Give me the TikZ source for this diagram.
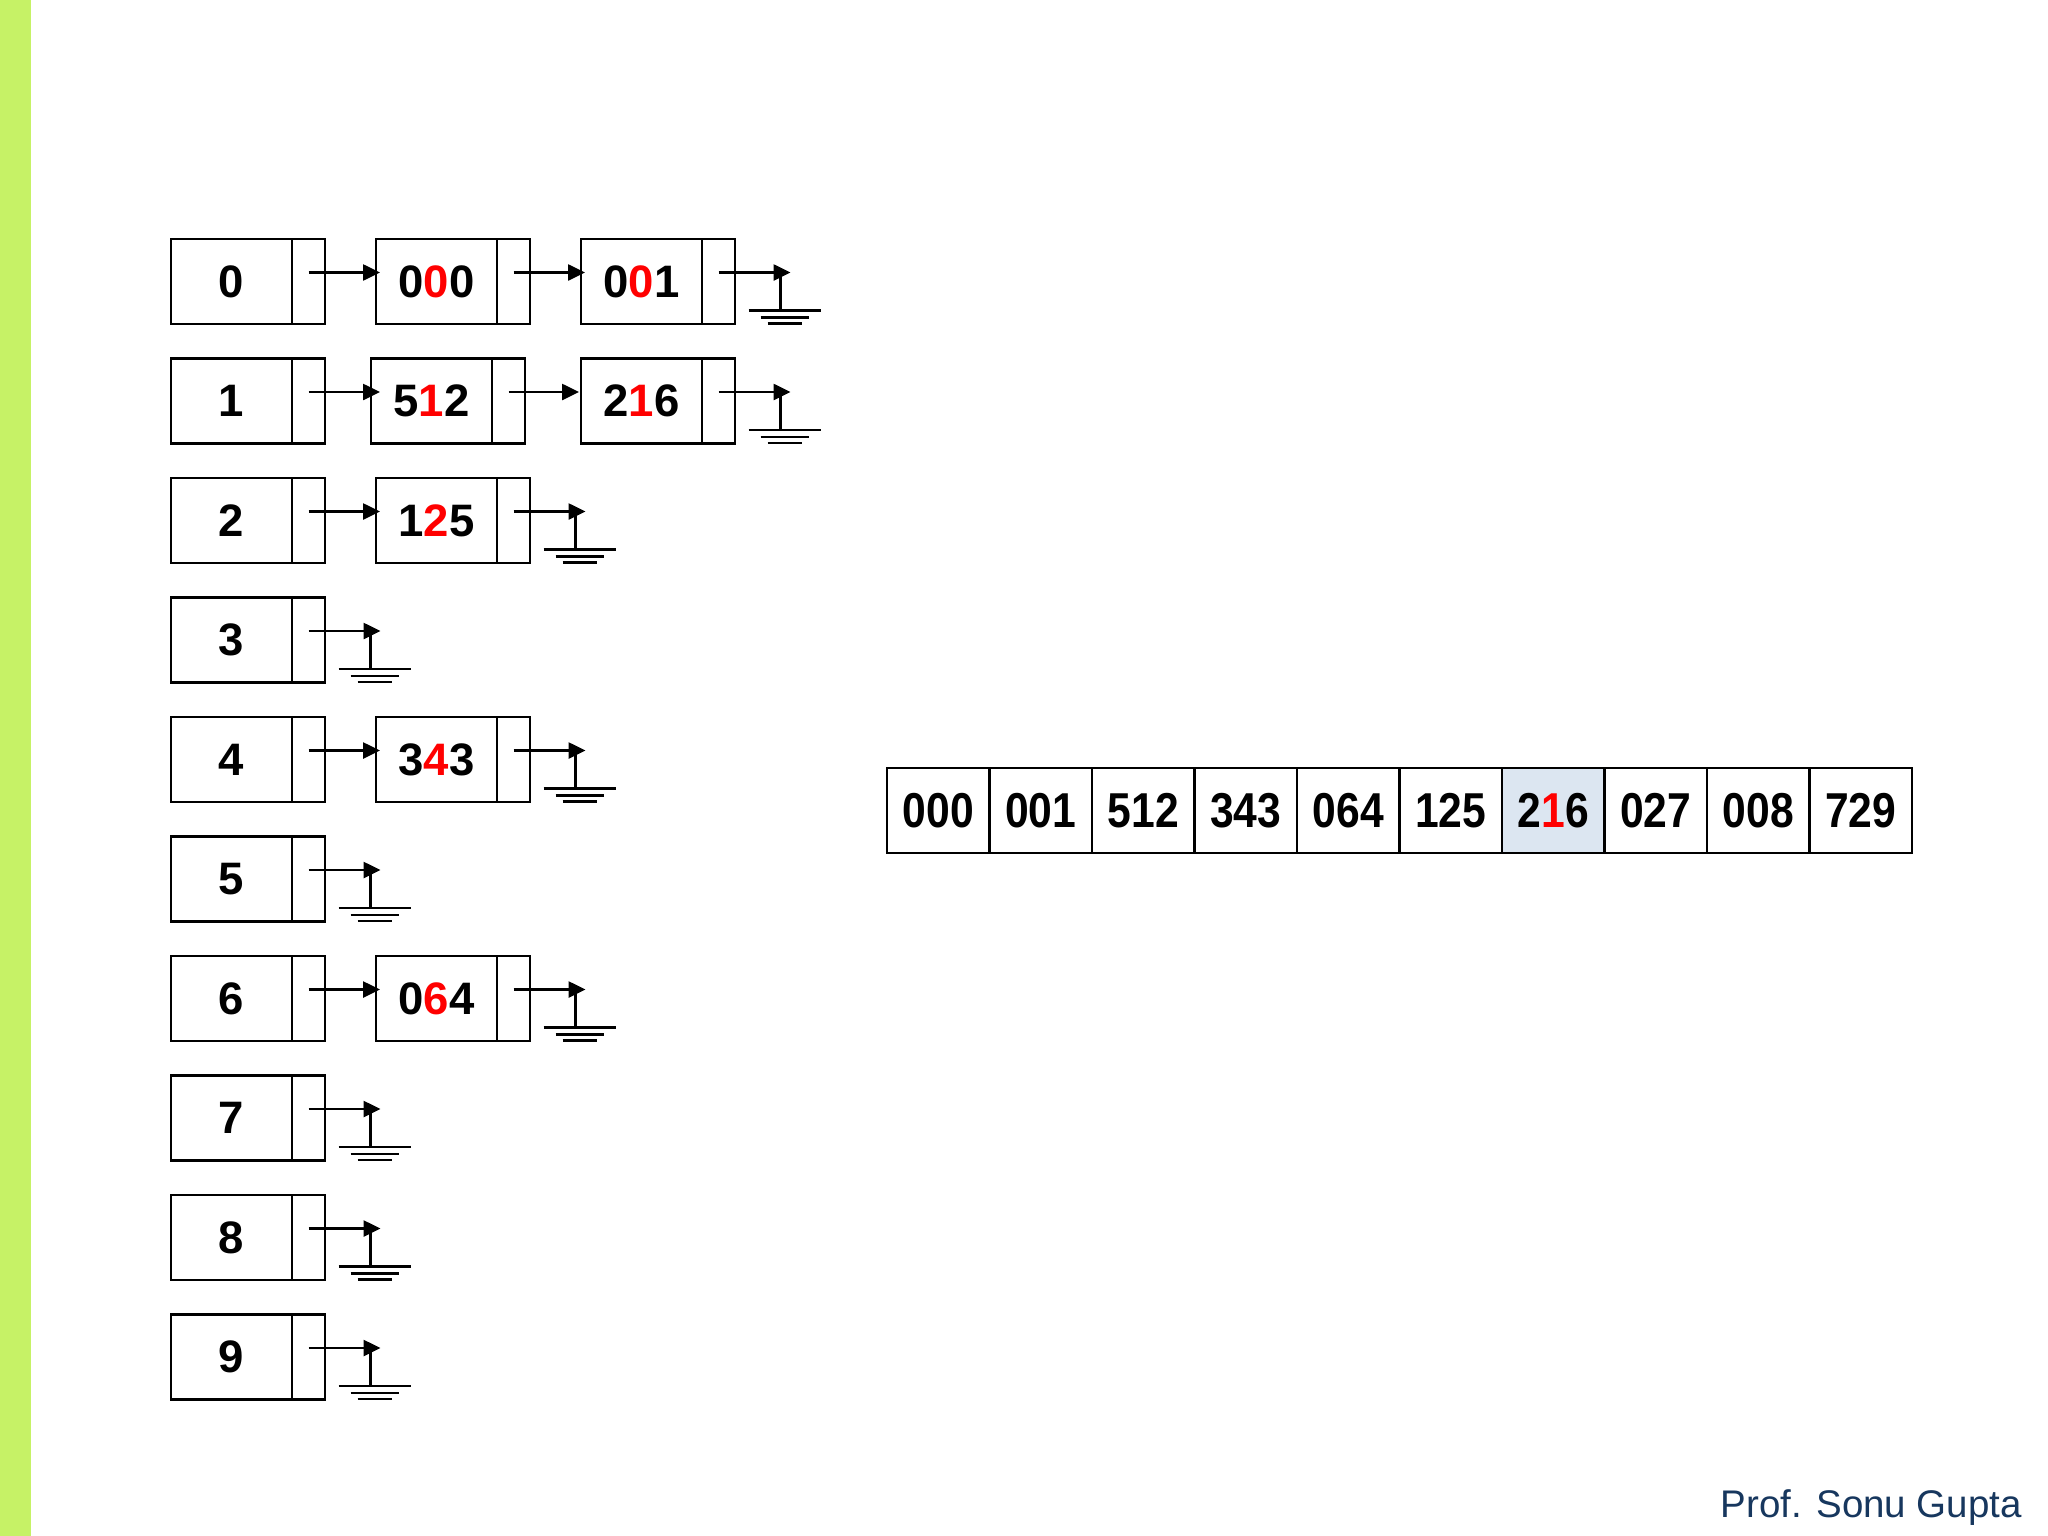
\documentclass[tikz,border=0pt]{standalone}
\usepackage{fontspec}
\usepackage{graphicx}
\setmainfont{Liberation Sans}
\usetikzlibrary{arrows.meta,calc}
\definecolor{barGreen}{RGB}{198,242,102}
\definecolor{hiBlue}{RGB}{220,230,241}
\definecolor{authorBlue}{RGB}{23,55,94}
\definecolor{digitRed}{RGB}{255,0,0}
\newcommand\rd[1]{\textcolor{digitRed}{#1}}
\newcommand\nar[1]{\scalebox{0.87}[1]{#1}}
\newcommand\groundmark[2]{%
  \coordinate (#2) at ($(#1.center)+(72,-9)$);
  \draw[ptr] ($(#1.center)+(0,-9)$) -- (#2);
  \draw[gline] ($(#1.center)+(62,-9)$) -- ($(#1.center)+(62,29)$);
  \draw[gline] ($(#1.center)+(30,29)$) -- ($(#1.center)+(102,29)$);
  \draw[gline] ($(#1.center)+(42,36)$) -- ($(#1.center)+(90,36)$);
  \draw[gline] ($(#1.center)+(49,42)$) -- ($(#1.center)+(83,42)$);
}
\begin{document}
\begin{tikzpicture}[x=1pt,y=-1pt,
  databox/.style={draw, line width=2.4pt, minimum width=121pt, minimum height=85pt,
    inner sep=0pt, outer sep=0pt, anchor=north west,
    font=\fontsize{45.5}{50}\selectfont\bfseries},
  ptrbox/.style={draw, line width=2.4pt, minimum width=33pt, minimum height=85pt,
    inner sep=0pt, outer sep=0pt, anchor=north west},
  ptr/.style={line width=2.6pt, -{Triangle[length=17pt,width=16pt]}},
  gline/.style={line width=2.4pt},
  cell/.style={draw, line width=2.4pt, minimum width=102.5pt, minimum height=85pt,
    inner sep=0pt, outer sep=0pt, anchor=north west,
    font=\fontsize{49}{54}\selectfont\bfseries}]
\useasboundingbox (0,0) rectangle (2048,1536);
\fill[white] (0,0) rectangle (2048,1536);
\fill[barGreen] (0,0) rectangle (31,1536);

% buckets
\foreach \i in {0,...,9} {
  \node[databox] (b\i) at (171,239+119.5*\i) {\i};
  \node[ptrbox] (bp\i) at (b\i.north east) {};
}

% list nodes
\node[databox] (n00) at (376,239) {0\rd{0}0};
\node[ptrbox] (p00) at (n00.north east) {};
\node[databox] (n01) at (581,239) {0\rd{0}1};
\node[ptrbox] (p01) at (n01.north east) {};

\node[databox] (n10) at (371,358.5) {5\rd{1}2};
\node[ptrbox] (p10) at (n10.north east) {};
\node[databox] (n11) at (581,358.5) {2\rd{1}6};
\node[ptrbox] (p11) at (n11.north east) {};

\node[databox] (n20) at (376,478) {1\rd{2}5};
\node[ptrbox] (p20) at (n20.north east) {};

\node[databox] (n40) at (376,717) {3\rd{4}3};
\node[ptrbox] (p40) at (n40.north east) {};

\node[databox] (n60) at (376,956) {0\rd{6}4};
\node[ptrbox] (p60) at (n60.north east) {};

% links
\draw[ptr] ($(bp0.center)+(0,-9)$) -- ($(bp0.center -| n00.west)+(4,-9)$);
\draw[ptr] ($(p00.center)+(0,-9)$) -- ($(p00.center -| n01.west)+(4,-9)$);
\draw[ptr] ($(bp1.center)+(0,-9)$) -- ($(bp1.center -| n10.west)+(9,-9)$);
\draw[ptr] ($(p10.center)+(0,-9)$) -- ($(p10.center -| n11.west)+(-2,-9)$);
\draw[ptr] ($(bp2.center)+(0,-9)$) -- ($(bp2.center -| n20.west)+(4,-9)$);
\draw[ptr] ($(bp4.center)+(0,-9)$) -- ($(bp4.center -| n40.west)+(4,-9)$);
\draw[ptr] ($(bp6.center)+(0,-9)$) -- ($(bp6.center -| n60.west)+(4,-9)$);

% null pointers
\groundmark{p01}{g01}
\groundmark{p11}{g11}
\groundmark{p20}{g20}
\groundmark{bp3}{g3}
\groundmark{p40}{g40}
\groundmark{bp5}{g5}
\groundmark{p60}{g60}
\groundmark{bp7}{g7}
\groundmark{bp8}{g8}
\groundmark{bp9}{g9}

% output array
\node[cell] (a0) at (887,768) {\nar{000}};
\node[cell] (a1) at (a0.north east) {\nar{001}};
\node[cell] (a2) at (a1.north east) {\nar{512}};
\node[cell] (a3) at (a2.north east) {\nar{343}};
\node[cell] (a4) at (a3.north east) {\nar{064}};
\node[cell] (a5) at (a4.north east) {\nar{125}};
\node[cell, fill=hiBlue] (a6) at (a5.north east) {\nar{2\rd{1}6}};
\node[cell] (a7) at (a6.north east) {\nar{027}};
\node[cell] (a8) at (a7.north east) {\nar{008}};
\node[cell] (a9) at (a8.north east) {\nar{729}};

\node[anchor=base east, text=authorBlue, inner sep=0pt,
  font=\fontsize{38.5}{44}\selectfont] (author) at (2022,1517) {Prof. Sonu Gupta};
\end{tikzpicture}
\end{document}
